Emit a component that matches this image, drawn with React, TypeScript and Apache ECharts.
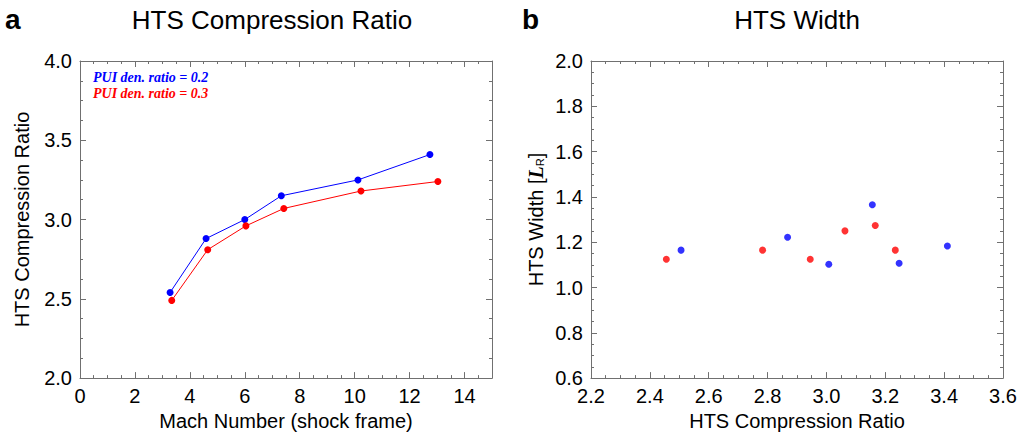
import React, { useEffect, useRef } from "react";
import * as echarts from "echarts";

// Panel a: HTS compression ratio vs Mach number
const machBlue = [3.28, 4.59, 6.0, 7.33, 10.12, 12.74];
const ratioBlue = [2.54, 2.88, 3.0, 3.15, 3.25, 3.41];
const machRed = [3.34, 4.65, 6.04, 7.42, 10.23, 13.03];
const ratioRed = [2.49, 2.81, 2.96, 3.07, 3.18, 3.24];

// Panel b: HTS width vs compression ratio
const wRatioBlue = [2.506, 2.868, 3.008, 3.156, 3.247, 3.411];
const widthBlue = [1.165, 1.222, 1.103, 1.365, 1.107, 1.183];
const wRatioRed = [2.456, 2.783, 2.945, 3.063, 3.166, 3.234];
const widthRed = [1.125, 1.165, 1.125, 1.25, 1.274, 1.165];

const legendTexts = ["PUI den. ratio = 0.2", "PUI den. ratio = 0.3"];
const titles = ["HTS Compression Ratio", "HTS Width"];
const panelLetters = ["a", "b"];

const BLUE = "#0000ff";
const RED = "#ff0000";
const FONT = "Liberation Sans, Arial, Helvetica, sans-serif";
const AXIS_COLOR = "#707070";
const LABEL_SIZE = 20;

const zip = (xs: number[], ys: number[]) => xs.map((x, i) => [x, ys[i]]);

function makeAxis(
  gridIndex: number,
  position: string,
  min: number,
  max: number,
  interval: number,
  showLabel: boolean,
  extra: any = {}
) {
  return {
    type: "value",
    gridIndex,
    position,
    min,
    max,
    interval,
    axisLine: { show: true, onZero: false, lineStyle: { color: AXIS_COLOR, width: 1 } },
    axisTick: { show: true, inside: true, length: 6, lineStyle: { color: AXIS_COLOR } },
    minorTick: { show: true, splitNumber: 4, length: 3, lineStyle: { color: AXIS_COLOR } },
    splitLine: { show: false },
    minorSplitLine: { show: false },
    axisLabel: {
      show: showLabel,
      fontSize: LABEL_SIZE,
      color: "#000",
      fontFamily: FONT,
      margin: 8,
      showMaxLabel: extra.showMaxLabel !== undefined ? extra.showMaxLabel : true,
      formatter: extra.formatter,
    },
    ...(extra.name
      ? {
          name: extra.name,
          nameLocation: "middle",
          nameGap: extra.nameGap,
          nameTextStyle: {
            fontSize: LABEL_SIZE,
            color: "#000",
            fontFamily: FONT,
            rich: extra.rich,
          },
        }
      : {}),
  };
}

export default function App() {
  const ref = useRef<HTMLDivElement>(null);

  useEffect(() => {
    if (!ref.current) return;
    const chart = echarts.init(ref.current, undefined, { renderer: "svg" });
    const fmt1 = (v: number) => v.toFixed(1);
    const fmt0 = (v: number) => String(Math.round(v));

    const option: any = {
      animation: false,
      backgroundColor: "#fff",
      grid: [
        { left: 80, top: 61, width: 412, height: 322, containLabel: false },
        { left: 591, top: 61, width: 412, height: 322, containLabel: false },
      ],
      xAxis: [
        makeAxis(0, "bottom", 0, 15, 2, true, {
          formatter: fmt0,
          showMaxLabel: false,
          name: "Mach Number (shock frame)",
          nameGap: 25,
        }),
        makeAxis(0, "top", 0, 15, 2, false),
        makeAxis(1, "bottom", 2.2, 3.6, 0.2, true, {
          formatter: fmt1,
          name: "HTS Compression Ratio",
          nameGap: 25,
        }),
        makeAxis(1, "top", 2.2, 3.6, 0.2, false),
      ],
      yAxis: [
        makeAxis(0, "left", 2, 4, 0.5, true, {
          formatter: fmt1,
          name: "HTS Compression Ratio",
          nameGap: 48,
        }),
        makeAxis(0, "right", 2, 4, 0.5, false),
        makeAxis(1, "left", 0.6, 2.0, 0.2, true, {
          formatter: fmt1,
          name: "{n|HTS Width [}{L|L}{s|R}{n|]}",
          nameGap: 45,
          rich: {
            n: { fontSize: LABEL_SIZE, fontFamily: FONT, color: "#000" },
            L: {
              fontSize: LABEL_SIZE,
              fontFamily: "Liberation Serif, Times New Roman, serif",
              fontStyle: "italic",
              fontWeight: "bold",
              color: "#000",
            },
            s: {
              fontSize: 11,
              fontFamily: FONT,
              color: "#000",
              padding: [8, 0, 0, 0],
            },
          },
        }),
        makeAxis(1, "right", 0.6, 2.0, 0.2, false),
      ],
      series: [
        {
          type: "line",
          xAxisIndex: 0,
          yAxisIndex: 0,
          data: zip(machBlue, ratioBlue),
          symbol: "circle",
          symbolSize: 7,
          itemStyle: { color: BLUE },
          lineStyle: { color: BLUE, width: 1 },
        },
        {
          type: "line",
          xAxisIndex: 0,
          yAxisIndex: 0,
          data: zip(machRed, ratioRed),
          symbol: "circle",
          symbolSize: 7,
          itemStyle: { color: RED },
          lineStyle: { color: RED, width: 1 },
        },
        {
          type: "scatter",
          xAxisIndex: 2,
          yAxisIndex: 2,
          data: zip(wRatioBlue, widthBlue),
          symbol: "circle",
          symbolSize: 7,
          itemStyle: { color: BLUE },
        },
        {
          type: "scatter",
          xAxisIndex: 2,
          yAxisIndex: 2,
          data: zip(wRatioRed, widthRed),
          symbol: "circle",
          symbolSize: 7,
          itemStyle: { color: RED },
        },
      ],
      graphic: [
        {
          type: "text",
          x: 272,
          y: 20,
          style: {
            text: titles[0],
            fontSize: 26,
            fontFamily: FONT,
            fill: "#000",
            align: "center",
            verticalAlign: "middle",
          },
        },
        {
          type: "text",
          x: 797,
          y: 20,
          style: {
            text: titles[1],
            fontSize: 26,
            fontFamily: FONT,
            fill: "#000",
            align: "center",
            verticalAlign: "middle",
          },
        },
        {
          type: "text",
          x: 5,
          y: 19,
          style: {
            text: panelLetters[0],
            fontSize: 28,
            fontWeight: "bold",
            fontFamily: FONT,
            fill: "#000",
            verticalAlign: "middle",
          },
        },
        {
          type: "text",
          x: 522,
          y: 19,
          style: {
            text: panelLetters[1],
            fontSize: 28,
            fontWeight: "bold",
            fontFamily: FONT,
            fill: "#000",
            verticalAlign: "middle",
          },
        },
        {
          type: "text",
          x: 93,
          y: 77,
          style: {
            text: legendTexts[0],
            fontSize: 14,
            fontWeight: "bold",
            fontStyle: "italic",
            fontFamily: "Liberation Serif, Times New Roman, serif",
            fill: BLUE,
            verticalAlign: "middle",
          },
        },
        {
          type: "text",
          x: 93,
          y: 93,
          style: {
            text: legendTexts[1],
            fontSize: 14,
            fontWeight: "bold",
            fontStyle: "italic",
            fontFamily: "Liberation Serif, Times New Roman, serif",
            fill: RED,
            verticalAlign: "middle",
          },
        },
      ],
    };

    chart.setOption(option);
    return () => chart.dispose();
  }, []);

  return (
    <div
      ref={ref}
      style={{ position: "fixed", left: 0, top: 0, width: 1022, height: 436, background: "#fff" }}
    />
  );
}
